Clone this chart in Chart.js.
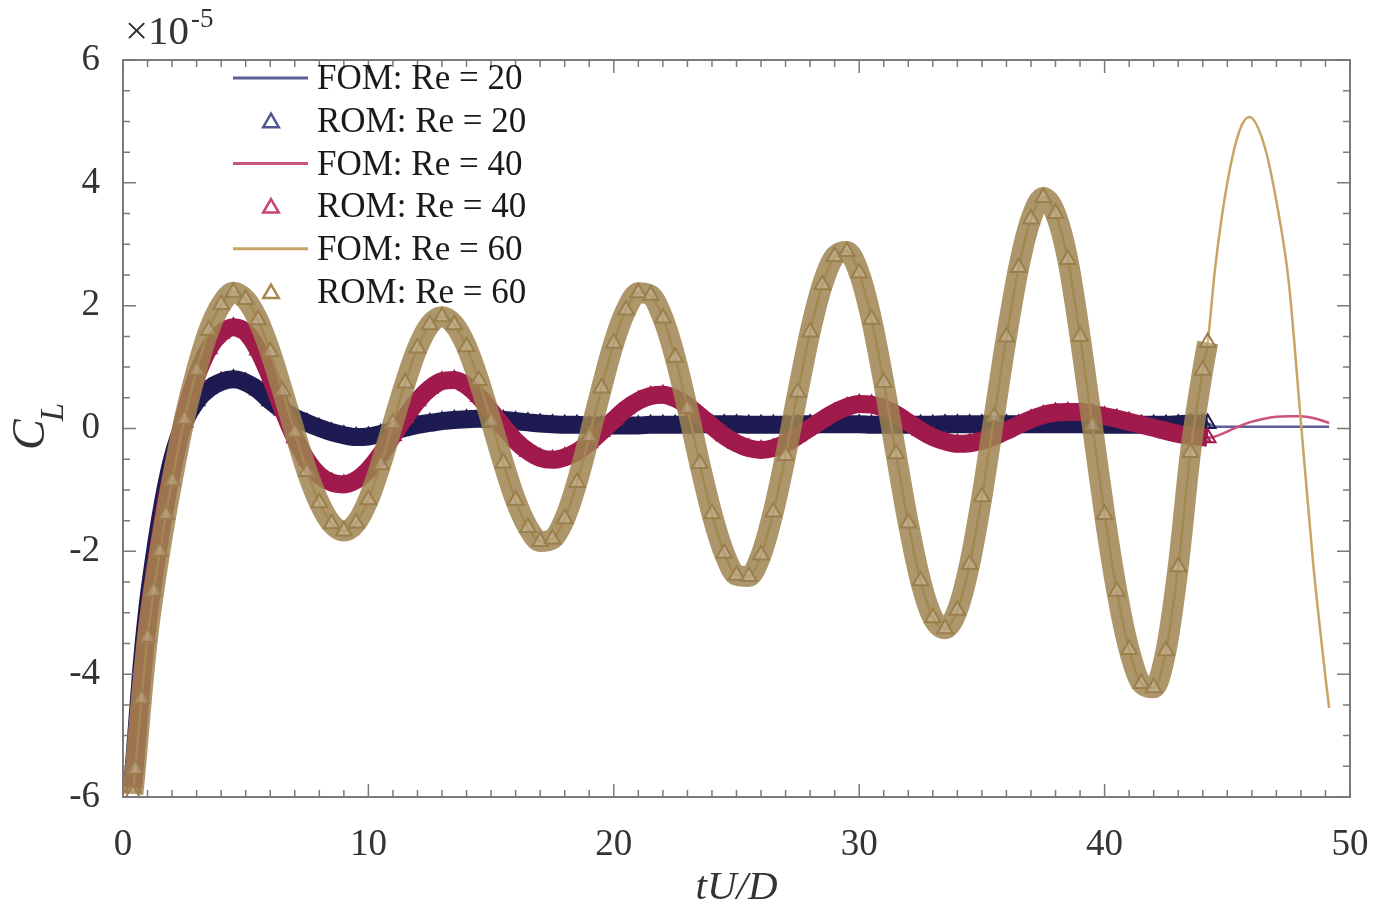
<!DOCTYPE html>
<html>
<head>
<meta charset="utf-8">
<script src="https://cdn.jsdelivr.net/npm/chart.js@4.4.1/dist/chart.umd.min.js"></script>
<style>
  html, body { margin: 0; padding: 0; background: #fff; }
  #wrap { width: 1396px; height: 918px; position: relative; }
</style>
</head>
<body>
<div id="wrap"><canvas id="clChart"></canvas></div>
<script>
// sample times (tU/D), ROM part
const romTime = [
  0.4, 0.5, 0.75, 1.0, 1.25, 1.5, 1.75, 2.0,
  2.5, 3.0, 3.5, 4.0, 4.5, 5.0, 5.5, 6.0, 6.5, 7.0,
  7.5, 8.0, 8.5, 9.0, 9.5, 10.0, 10.5, 11.0, 11.5, 12.0,
  12.5, 13.0, 13.5, 14.0, 14.5, 15.0, 15.5, 16.0, 16.5, 17.0,
  17.5, 18.0, 18.5, 19.0, 19.5, 20.0, 20.5, 21.0, 21.5, 22.0,
  22.5, 23.0, 23.5, 24.0, 24.5, 25.0, 25.5, 26.0, 26.5, 27.0,
  27.5, 28.0, 28.5, 29.0, 29.5, 30.0, 30.5, 31.0, 31.5, 32.0,
  32.5, 33.0, 33.5, 34.0, 34.5, 35.0, 35.5, 36.0, 36.5, 37.0,
  37.5, 38.0, 38.5, 39.0, 39.5, 40.0, 40.5, 41.0, 41.5, 42.0,
  42.5, 43.0, 43.5, 44.0, 44.2
];
// FOM keeps going after the ROM stops
const fomTailTime = [44.5, 45.0, 45.5, 45.9, 46.5, 47.0, 47.5, 48.0, 48.5, 49.0, 49.15];

// C_L values, in units of 1e-5
const re20 = [
  -5.7, -5.2, -3.9, -2.9, -2.15, -1.5, -0.95, -0.5,
  0.1, 0.45, 0.65, 0.76, 0.8, 0.75, 0.63, 0.45, 0.3, 0.18,
  0.09, 0.01, -0.06, -0.11, -0.14, -0.13, -0.09, -0.04, 0.01, 0.06,
  0.09, 0.12, 0.14, 0.15, 0.16, 0.15, 0.14, 0.12, 0.10, 0.08,
  0.07, 0.06, 0.06, 0.05, 0.05, 0.05, 0.05, 0.05, 0.06, 0.06,
  0.06, 0.06, 0.07, 0.07, 0.07, 0.07, 0.06, 0.06, 0.06, 0.06,
  0.07, 0.07, 0.07, 0.07, 0.07, 0.07, 0.06, 0.06, 0.06, 0.06,
  0.06, 0.06, 0.07, 0.07, 0.07, 0.07, 0.07, 0.07, 0.07, 0.07,
  0.07, 0.07, 0.07, 0.07, 0.06, 0.06, 0.06, 0.06, 0.06, 0.06,
  0.06, 0.07, 0.08, 0.08, 0.08
];
const re40 = [
  -5.85, -5.4, -4.2, -3.2, -2.45, -1.8, -1.2, -0.7,
  0.2, 0.85, 1.3, 1.55, 1.65, 1.57, 1.28, 0.84, 0.32, -0.15,
  -0.52, -0.76, -0.88, -0.91, -0.84, -0.67, -0.42, -0.12, 0.18, 0.45,
  0.65, 0.77, 0.79, 0.70, 0.52, 0.28, 0.03, -0.20, -0.37, -0.48,
  -0.51, -0.47, -0.38, -0.23, -0.05, 0.14, 0.32, 0.45, 0.53, 0.55,
  0.49, 0.37, 0.21, 0.04, -0.12, -0.24, -0.32, -0.35, -0.32, -0.24,
  -0.12, 0.01, 0.14, 0.26, 0.35, 0.40, 0.39, 0.33, 0.23, 0.10,
  -0.03, -0.14, -0.21, -0.25, -0.24, -0.20, -0.13, -0.04, 0.06, 0.15,
  0.22, 0.26, 0.27, 0.27, 0.24, 0.20, 0.16, 0.11, 0.06, 0.01,
  -0.04, -0.09, -0.12, -0.14, -0.15
];
const re60 = [
  -5.95, -5.55, -4.4, -3.4, -2.65, -2.0, -1.4, -0.85,
  0.15, 0.95, 1.6, 2.02, 2.22, 2.10, 1.77, 1.25, 0.61, -0.06,
  -0.70, -1.21, -1.55, -1.67, -1.54, -1.16, -0.59, 0.08, 0.74, 1.31,
  1.69, 1.82, 1.69, 1.33, 0.78, 0.12, -0.56, -1.17, -1.61, -1.84,
  -1.80, -1.47, -0.88, -0.13, 0.66, 1.39, 1.93, 2.21, 2.17, 1.80,
  1.16, 0.33, -0.57, -1.39, -2.03, -2.39, -2.41, -2.06, -1.36, -0.44,
  0.59, 1.57, 2.34, 2.80, 2.88, 2.53, 1.78, 0.75, -0.41, -1.54,
  -2.48, -3.08, -3.26, -2.96, -2.21, -1.11, 0.19, 1.49, 2.62, 3.41,
  3.76, 3.50, 2.75, 1.50, 0.05, -1.40, -2.65, -3.60, -4.15, -4.22,
  -3.62, -2.25, -0.39, 0.95, 1.40
];
const re20Tail = [0.03, 0.03, 0.03, 0.03, 0.03, 0.03, 0.03, 0.03, 0.03, 0.03, 0.03];
const re40Tail = [-0.13, -0.05, 0.04, 0.10, 0.16, 0.19, 0.20, 0.20, 0.17, 0.11, 0.09];
const re60Tail = [2.6, 4.0, 4.85, 5.07, 4.62, 3.7, 2.4, 0.1, -2.2, -4.05, -4.55];

const xTicks = [0, 10, 20, 30, 40, 50];
const yTicks = [-6, -4, -2, 0, 2, 4, 6];

const FONT = '"Liberation Serif", "Times New Roman", serif';
Chart.defaults.font.family = FONT;

const toPoints = (ts, vs) => ts.map((t, i) => ({ x: t, y: vs[i] }));

function fomSet(label, vals, tail, color, order) {
  return {
    label,
    data: toPoints(romTime.concat(fomTailTime), vals.concat(tail)),
    borderColor: color,
    borderWidth: 2.5,
    pointRadius: 0,
    cubicInterpolationMode: 'monotone',
    order,
    legendKind: 'line',
    legendColor: color
  };
}

function romSet(label, vals, band, width, mark, fill, legendColor, order) {
  return {
    label,
    data: toPoints(romTime, vals),
    showLine: true,
    borderColor: band,
    borderWidth: width,
    borderJoinStyle: 'round',
    cubicInterpolationMode: 'monotone',
    pointStyle: 'triangle',
    pointRadius: 9,
    pointBorderWidth: 2,
    pointBorderColor: mark,
    pointBackgroundColor: fill,
    order,
    legendKind: 'triangle',
    legendColor
  };
}

// inward ticks on all four sides, box frame, legend, exponent and y title
const figureDecor = {
  id: 'figureDecor',
  afterDraw(chart) {
    const { ctx, chartArea: a, scales: { x, y } } = chart;
    ctx.save();

    ctx.strokeStyle = '#7a7a7a';
    ctx.lineWidth = 2;
    ctx.strokeRect(a.left, a.top, a.right - a.left, a.bottom - a.top);

    ctx.lineWidth = 1.5;
    ctx.beginPath();
    for (let v = x.min; v <= x.max; v += 1) {
      const px = x.getPixelForValue(v);
      const len = v % 10 === 0 ? 13 : 7;
      ctx.moveTo(px, a.bottom); ctx.lineTo(px, a.bottom - len);
      ctx.moveTo(px, a.top); ctx.lineTo(px, a.top + len);
    }
    for (let k = y.min * 2; k <= y.max * 2; k++) {
      const py = y.getPixelForValue(k / 2);
      const len = k % 4 === 0 ? 13 : 7;
      ctx.moveTo(a.left, py); ctx.lineTo(a.left + len, py);
      ctx.moveTo(a.right, py); ctx.lineTo(a.right - len, py);
    }
    ctx.stroke();

    // exponent label
    ctx.fillStyle = '#333';
    ctx.textBaseline = 'alphabetic';
    ctx.textAlign = 'left';
    ctx.font = '41px ' + FONT;
    ctx.fillText('\u00d710', a.left + 2, 44);
    const w = ctx.measureText('\u00d710').width;
    ctx.font = '27px ' + FONT;
    ctx.fillText('-5', a.left + 4 + w, 27);

    // y axis title C_L
    ctx.save();
    ctx.translate(44, 450);
    ctx.rotate(-Math.PI / 2);
    ctx.font = 'italic 46px ' + FONT;
    ctx.fillText('C', 0, 0);
    const wc = ctx.measureText('C').width;
    ctx.font = 'italic 33px ' + FONT;
    ctx.fillText('L', wc - 2, 19);
    ctx.restore();

    // legend
    const lx = a.left + 110, ly = a.top + 18, rowH = 42.7;
    ctx.textBaseline = 'middle';
    ctx.font = '35px ' + FONT;
    chart.data.datasets.forEach((ds, i) => {
      const cy = ly + i * rowH;
      if (ds.legendKind === 'line') {
        ctx.strokeStyle = ds.legendColor;
        ctx.lineWidth = 3;
        ctx.beginPath();
        ctx.moveTo(lx, cy); ctx.lineTo(lx + 75, cy);
        ctx.stroke();
      } else {
        ctx.strokeStyle = ds.legendColor;
        ctx.fillStyle = '#fff';
        ctx.lineWidth = 2.5;
        Chart.helpers.drawPoint(ctx, { pointStyle: 'triangle', radius: 9, rotation: 0, borderWidth: 2.5 }, lx + 38, cy + 2);
      }
      ctx.fillStyle = '#1a1a1a';
      ctx.fillText(ds.label, lx + 84, cy + 2);
    });
    ctx.restore();
  }
};

new Chart(document.getElementById('clChart'), {
  type: 'line',
  data: {
    datasets: [
      fomSet('FOM: Re = 20', re20, re20Tail, '#5c6096', 5),
      romSet('ROM: Re = 20', re20, '#1d1b52', 18, '#1d1b52', 'rgba(0,0,0,0)', '#4f5590', 4),
      fomSet('FOM: Re = 40', re40, re40Tail, '#c9527e', 3),
      romSet('ROM: Re = 40', re40, '#a01a4c', 18, '#a01a4c', 'rgba(0,0,0,0)', '#c9446f', 2),
      fomSet('FOM: Re = 60', re60, re60Tail, '#c9a465', 1),
      romSet('ROM: Re = 60', re60, 'rgba(158,132,80,0.85)', 21, '#9a7f4c', 'rgba(255,255,255,0.2)', '#a8884f', 0)
    ]
  },
  options: {
    responsive: true,
    maintainAspectRatio: false,
    animation: false,
    layout: { padding: { left: 0, top: 60, right: 46, bottom: 0 } },
    plugins: { legend: { display: false }, tooltip: { enabled: false } },
    scales: {
      x: {
        type: 'linear',
        min: xTicks[0],
        max: xTicks[xTicks.length - 1],
        afterFit(s) { s.height = 121; },
        afterBuildTicks(s) { s.ticks = xTicks.map(v => ({ value: v })); },
        grid: { display: false },
        border: { display: false },
        ticks: { font: { size: 37 }, color: '#333', padding: 18, maxRotation: 0 },
        title: {
          display: true, text: 'tU/D', color: '#333',
          font: { size: 41, style: 'italic' }, padding: { top: 0, bottom: 5 }
        }
      },
      y: {
        type: 'linear',
        min: yTicks[0],
        max: yTicks[yTicks.length - 1],
        afterFit(s) { s.width = 123; },
        afterBuildTicks(s) { s.ticks = yTicks.map(v => ({ value: v })); },
        grid: { display: false },
        border: { display: false },
        ticks: { font: { size: 37 }, color: '#333', padding: 15 }
      }
    }
  },
  plugins: [figureDecor]
});
</script>
</body>
</html>
